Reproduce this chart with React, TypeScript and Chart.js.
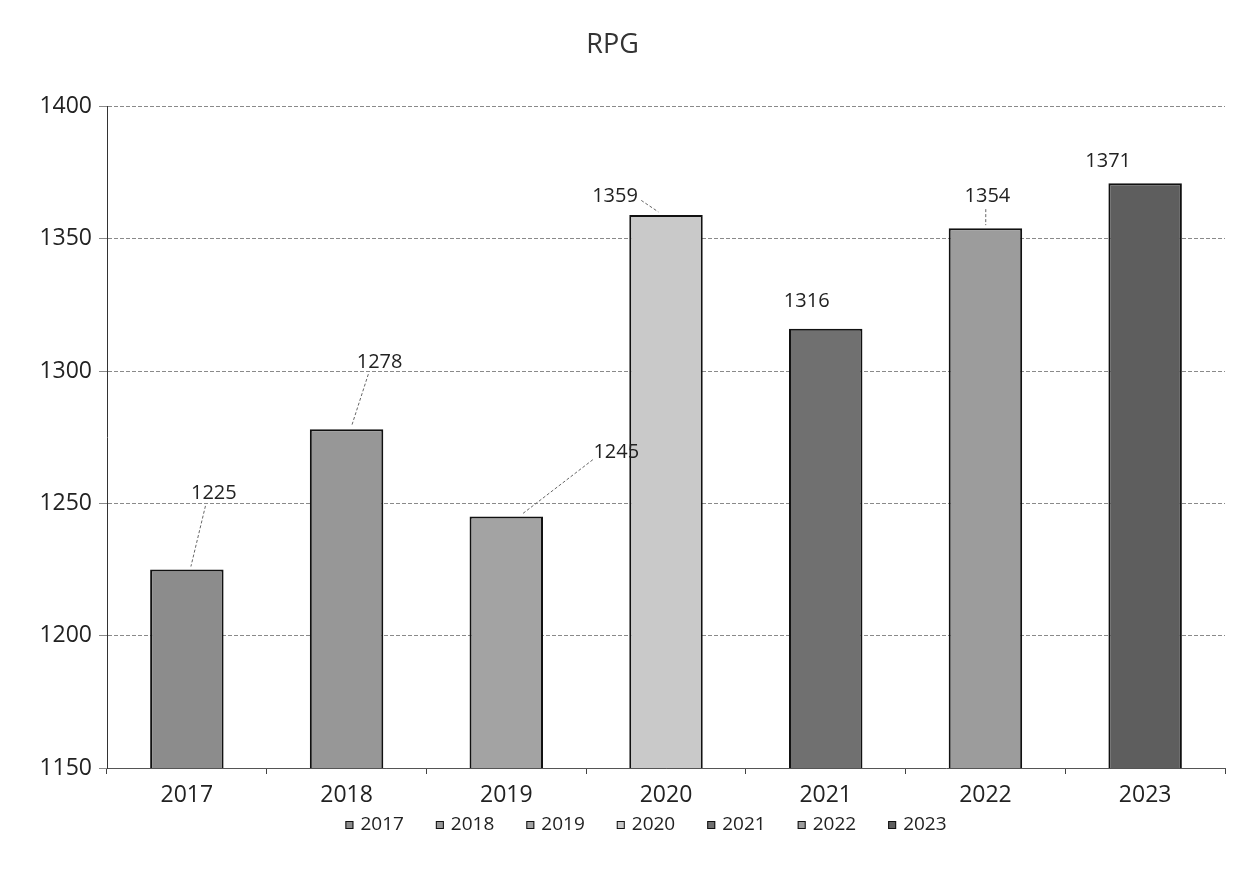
import React, { useEffect, useRef } from "react";
import { Chart, registerables } from "chart.js";

Chart.register(...registerables);

const categories = ["2017", "2018", "2019", "2020", "2021", "2022", "2023"];
const values = [1225, 1278, 1245, 1359, 1316, 1354, 1371];
const yTicks = [1150, 1200, 1250, 1300, 1350, 1400];
const title = "RPG";

const barColors = ["#8c8c8c", "#979797", "#a3a3a3", "#c9c9c9", "#707070", "#9c9c9c", "#5e5e5e"];
// label offsets relative to bar top (style only)
const labelOffsets: [number, number, boolean][] = [
  [27, -76, true],
  [33, -67, true],
  [110, -64, true],
  [-51, -19, true],
  [-19, -27, false],
  [2, -32, true],
  [-37, -22, false],
];

const FONT = "'Open Sans', 'DejaVu Sans', sans-serif";

const valueLabels = {
  id: "valueLabels",
  afterDatasetsDraw(chart: any) {
    const ctx = chart.ctx;
    const meta = chart.getDatasetMeta(0);
    ctx.save();
    ctx.font = `20px ${FONT}`;
    ctx.fillStyle = "#222";
    ctx.textAlign = "center";
    ctx.textBaseline = "middle";
    meta.data.forEach((bar: any, i: number) => {
      const [dx, dy, leader] = labelOffsets[i];
      const lx = bar.x + dx;
      const ly = bar.y + dy;
      if (leader) {
        ctx.save();
        ctx.strokeStyle = "#666";
        ctx.lineWidth = 1;
        ctx.setLineDash([3, 2]);
        ctx.beginPath();
        const tx = bar.x + Math.max(-20, Math.min(20, dx * 0.15));
        const ty = bar.y - 3;
        const ang = Math.atan2(ty - ly, tx - lx);
        const sx = lx + Math.cos(ang) * 28;
        const sy = ly + Math.sin(ang) * 13;
        ctx.moveTo(sx, sy);
        ctx.lineTo(tx, ty);
        ctx.stroke();
        ctx.restore();
      }
      ctx.fillText(String(values[i]), lx, ly);
    });
    ctx.restore();
  },
};

const bottomLegend = {
  id: "bottomLegend",
  afterDraw(chart: any) {
    const ctx = chart.ctx;
    const area = chart.chartArea;
    ctx.save();
    ctx.font = `19px ${FONT}`;
    ctx.textBaseline = "middle";
    ctx.textAlign = "left";
    const box = 8;
    const gapBoxText = 7;
    const gapItems = 32;
    const widths = categories.map((c) => box + gapBoxText + ctx.measureText(c).width);
    const total = widths.reduce((a, b) => a + b, 0) + gapItems * (categories.length - 1);
    let x = (area.left + area.right) / 2 - 20 - total / 2;
    const y = area.bottom + 57;
    categories.forEach((c, i) => {
      ctx.fillStyle = barColors[i];
      ctx.strokeStyle = "#111";
      ctx.lineWidth = 1;
      ctx.fillRect(x, y - box / 2, box, box);
      ctx.strokeRect(x + 0.5, y - box / 2 + 0.5, box - 1, box - 1);
      ctx.fillStyle = "#222";
      ctx.fillText(c, x + box + gapBoxText, y);
      x += widths[i] + gapItems;
    });
    ctx.restore();
  },
};

export default function App() {
  const ref = useRef<HTMLCanvasElement | null>(null);
  useEffect(() => {
    if (!ref.current) return;
    const chart = new Chart(ref.current, {
      type: "bar",
      data: {
        labels: categories,
        datasets: [
          {
            label: title,
            data: values,
            backgroundColor: barColors,
            borderColor: "#111",
            borderWidth: 2,
            borderSkipped: false,
            barPercentage: 1,
            categoryPercentage: 0.46,
          },
        ],
      },
      options: {
        animation: false,
        responsive: false,
        maintainAspectRatio: false,
        layout: { padding: { left: 0, right: 14, top: 0, bottom: 73 } },
        plugins: {
          title: {
            display: true,
            text: title,
            color: "#333",
            font: { family: FONT, size: 27, weight: "normal" },
            padding: { top: 29, bottom: 45 },
          },
          tooltip: { enabled: false },
          legend: { display: false },
        },
        scales: {
          x: {
            afterFit: (s: any) => {
              s.height = 46;
            },
            grid: {
              drawOnChartArea: false,
              offset: true,
              tickLength: 6,
              color: "#444",
            },
            border: { color: "#555", width: 1 },
            ticks: {
              color: "#222",
              font: { family: FONT, size: 23 },
              padding: 8,
            },
          },
          y: {
            min: 1150,
            max: 1400,
            afterFit: (s: any) => {
              s.width = 107;
            },
            afterBuildTicks: (s: any) => {
              s.ticks = yTicks.map((v) => ({ value: v }));
            },
            grid: {
              color: "#8a8a8a",
              tickLength: 8,
              lineWidth: 1,
            },
            border: { color: "#333", width: 1, dash: [4, 2] },
            ticks: {
              color: "#222",
              font: { family: FONT, size: 23 },
              padding: 7,
              callback: (v: any) => String(v),
            },
          },
        },
      },
      plugins: [valueLabels, bottomLegend],
    });
    return () => chart.destroy();
  }, []);
  return (
    <div style={{ position: "fixed", left: 0, top: 0, width: 1239, height: 887, background: "#fff" }}>
      <canvas ref={ref} width={1239} height={887} style={{ width: 1239, height: 887 }} />
    </div>
  );
}
